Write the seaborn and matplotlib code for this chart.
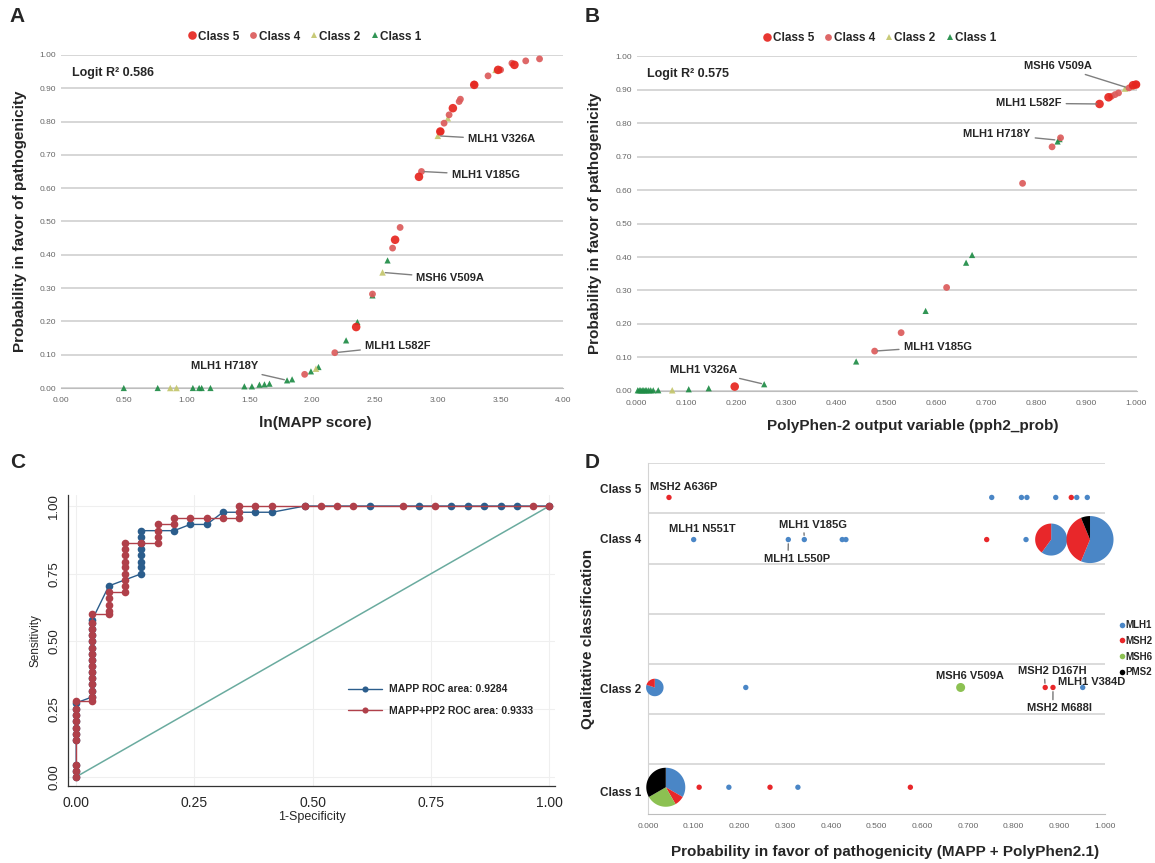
import numpy as np
import matplotlib
matplotlib.use("Agg")
import matplotlib.pyplot as plt
import pandas as pd
import seaborn as sns

# ---------------- panel A: ln(MAPP score) ----------------
a_c5_x = [2.35, 2.66, 2.85, 3.02, 3.12, 3.29, 3.48, 3.61]
a_c5_y = [0.183, 0.445, 0.634, 0.770, 0.840, 0.910, 0.955, 0.970]
a_c4_x = [1.94, 2.18, 2.48, 2.64, 2.70, 2.87, 3.02, 3.05, 3.09, 3.17, 3.18, 3.29, 3.40, 3.50, 3.59, 3.70, 3.81]
a_c4_y = [0.041, 0.106, 0.282, 0.420, 0.482, 0.650, 0.770, 0.795, 0.820, 0.860, 0.867, 0.912, 0.937, 0.955, 0.975, 0.982, 0.988]
a_c2_x = [0.87, 0.92, 2.03, 2.56, 3.00, 3.08, 3.46]
a_c2_y = [0.0, 0.0, 0.058, 0.347, 0.757, 0.810, 0.955]
a_c1_x = [0.50, 0.77, 1.05, 1.10, 1.12, 1.19, 1.46, 1.52, 1.58, 1.62, 1.66, 1.80, 1.84, 1.99, 2.05, 2.27, 2.36, 2.48, 2.60]
a_c1_y = [0.0, 0.0, 0.0, 0.0, 0.0, 0.0, 0.005, 0.005, 0.010, 0.011, 0.013, 0.023, 0.026, 0.050, 0.063, 0.143, 0.198, 0.278, 0.383]
a_labels = ["MLH1 V326A", "MLH1 V185G", "MSH6 V509A", "MLH1 L582F", "MLH1 H718Y"]
a_label_pts = [(3.00, 0.757), (2.87, 0.650), (2.56, 0.347), (2.18, 0.106), (1.80, 0.023)]
a_label_txt = [(3.24, 0.746), (3.11, 0.640), (2.83, 0.330), (2.42, 0.126), (1.57, 0.066)]

# ---------------- panel B: PolyPhen-2 ----------------
b_c5_x = [0.196, 0.926, 0.944, 0.993, 0.999]
b_c5_y = [0.013, 0.857, 0.877, 0.913, 0.915]
b_c4_x = [0.476, 0.529, 0.620, 0.772, 0.831, 0.848, 0.950, 0.957, 0.964, 0.985, 1.000]
b_c4_y = [0.119, 0.174, 0.309, 0.620, 0.729, 0.756, 0.880, 0.885, 0.890, 0.905, 0.915]
b_c2_x = [0.071, 0.977, 0.990]
b_c2_y = [0.002, 0.903, 0.910]
b_c1_x = [0.002, 0.005, 0.008, 0.011, 0.014, 0.017, 0.020, 0.024, 0.028, 0.033, 0.043,
          0.104, 0.144, 0.255, 0.439, 0.578, 0.659, 0.671, 0.842, 0.846]
b_c1_y = [0.002, 0.002, 0.002, 0.002, 0.002, 0.002, 0.002, 0.002, 0.002, 0.002, 0.002,
          0.005, 0.008, 0.020, 0.088, 0.239, 0.383, 0.406, 0.745, 0.752]
b_labels = ["MSH6 V509A", "MLH1 L582F", "MLH1 H718Y", "MLH1 V185G", "MLH1 V326A"]
b_label_pts = [(0.983, 0.905), (0.926, 0.857), (0.842, 0.749), (0.476, 0.119), (0.255, 0.020)]
b_label_txt = [(0.910, 0.971), (0.850, 0.859), (0.788, 0.767), (0.534, 0.132), (0.200, 0.063)]
b_label_ha = ["right", "right", "right", "left", "right"]

# ---------------- panel C: ROC curves ----------------
roc_mapp_x = [0, 0, 0, 0, 0, 0, 0, 0, 0, 0,
              0.034, 0.034, 0.034, 0.034, 0.034, 0.034, 0.034, 0.034, 0.034, 0.034, 0.034, 0.034, 0.034, 0.034,
              0.069, 0.138, 0.138, 0.138, 0.138, 0.138, 0.138, 0.138, 0.138,
              0.207, 0.241, 0.276, 0.310, 0.379, 0.414,
              0.483, 0.621, 0.724, 0.793, 0.828, 0.862, 0.897, 0.931, 1.0]
roc_mapp_y = [0, 0.023, 0.045, 0.136, 0.159, 0.182, 0.205, 0.227, 0.250, 0.273,
              0.295, 0.318, 0.341, 0.364, 0.386, 0.409, 0.432, 0.455, 0.477, 0.500, 0.523, 0.545, 0.568, 0.580,
              0.705, 0.750, 0.773, 0.795, 0.818, 0.841, 0.864, 0.886, 0.909,
              0.909, 0.932, 0.932, 0.977, 0.977, 0.977,
              1.0, 1.0, 1.0, 1.0, 1.0, 1.0, 1.0, 1.0, 1.0]
roc_comb_x = [0, 0, 0, 0, 0, 0, 0, 0, 0, 0,
              0.034, 0.034, 0.034, 0.034, 0.034, 0.034, 0.034, 0.034, 0.034, 0.034, 0.034, 0.034, 0.034, 0.034, 0.034,
              0.069, 0.069, 0.069, 0.069, 0.069,
              0.103, 0.103, 0.103, 0.103, 0.103, 0.103, 0.103, 0.103, 0.103,
              0.138, 0.172, 0.172, 0.172, 0.172, 0.207, 0.207, 0.241, 0.276, 0.310,
              0.345, 0.345, 0.345, 0.379, 0.414, 0.483, 0.517, 0.552, 0.586, 0.690, 0.759, 0.966, 1.0]
roc_comb_y = [0, 0.023, 0.045, 0.136, 0.159, 0.182, 0.205, 0.227, 0.250, 0.280,
              0.280, 0.295, 0.318, 0.341, 0.364, 0.386, 0.409, 0.432, 0.455, 0.477, 0.500, 0.523, 0.545, 0.568, 0.600,
              0.600, 0.614, 0.636, 0.659, 0.682,
              0.682, 0.705, 0.727, 0.750, 0.773, 0.795, 0.818, 0.841, 0.864,
              0.864, 0.864, 0.886, 0.909, 0.932, 0.932, 0.955, 0.955, 0.955, 0.955,
              0.955, 0.977, 1.0, 1.0, 1.0, 1.0, 1.0, 1.0, 1.0, 1.0, 1.0, 1.0, 1.0]
roc_ref = [0, 1]

# ---------------- panel D: classification vs probability ----------------
genes = ["MLH1", "MSH2", "MSH6", "PMS2"]
d_class_names = ["Class 5", "Class 4", "Class 2", "Class 1"]
d_class_y = [6.32, 5.48, 2.53, 0.54]
d_label_y = [6.5, 5.5, 2.5, 0.45]
d_pt_x = [0.046, 0.752, 0.817, 0.829, 0.892, 0.926, 0.938, 0.961,
          0.100, 0.307, 0.342, 0.425, 0.433, 0.741, 0.827,
          0.214, 0.684, 0.869, 0.886, 0.951,
          0.112, 0.177, 0.267, 0.328, 0.574]
d_pt_cls = ["Class 5"] * 8 + ["Class 4"] * 7 + ["Class 2"] * 5 + ["Class 1"] * 5
d_pt_gene = ["MSH2", "MLH1", "MLH1", "MLH1", "MLH1", "MSH2", "MLH1", "MLH1",
             "MLH1", "MLH1", "MLH1", "MLH1", "MLH1", "MSH2", "MLH1",
             "MLH1", "MSH6", "MSH2", "MSH2", "MLH1",
             "MSH2", "MLH1", "MSH2", "MLH1", "MSH2"]
# grouped variants drawn as pies (counts per gene: MLH1, MSH2, MSH6, PMS2)
pie_x = [0.882, 0.967, 0.015, 0.039]
pie_cls = ["Class 4", "Class 4", "Class 2", "Class 1"]
pie_counts = [[3, 2, 0, 0], [9, 6, 0, 1], [4, 1, 0, 0], [8, 2, 6, 8]]
pie_diam_px = [32, 47, 17.5, 39]
d_labels = ["MSH2 A636P", "MLH1 N551T", "MLH1 V185G", "MLH1 L550P", "MSH6 V509A",
            "MSH2 D167H", "MLH1 V384D", "MSH2 M688I"]
d_label_txt = [(0.005, 6.52), (0.045, 5.70), (0.286, 5.78), (0.253, 5.10), (0.630, 2.75),
               (0.809, 2.86), (0.896, 2.63), (0.829, 2.12)]
d_label_pt = [None, None, (0.342, 5.48), (0.307, 5.48), None, (0.869, 2.53), None, (0.886, 2.53)]
d_label_rel = [None, None, (0.37, 0.0), (0.37, 1.0), None, (0.39, 0.0), None, (0.40, 1.0)]

class_order = ["Class 5", "Class 4", "Class 2", "Class 1"]
class_colors = {"Class 5": "#e6261f", "Class 4": "#dc5b5b", "Class 2": "#c4c66c", "Class 1": "#1f8c46"}
class_markers = {"Class 5": "o", "Class 4": "o", "Class 2": "^", "Class 1": "^"}
class_sizes = {"Class 5": 38, "Class 4": 24, "Class 2": 22, "Class 1": 20}
gene_colors = {"MLH1": "#4a86c6", "MSH2": "#e8272a", "MSH6": "#8cc152", "PMS2": "#000000"}

sns.set_style("white")
plt.rcParams["font.family"] = ["Liberation Sans", "DejaVu Sans"]

fig = plt.figure(figsize=(11.55, 8.63), dpi=100)


def class_frame(parts):
    rows = []
    for cls, xs, ys in parts:
        for x, y in zip(xs, ys):
            rows.append({"x": x, "y": y, "cls": cls})
    return pd.DataFrame(rows)


def scatter_panel(ax, df, xmax, xstep, fmt, labels, pts, txts, has, r2, xlabel, lab_x, lab_xx, leg_x):
    sns.scatterplot(data=df, x="x", y="y", hue="cls", style="cls", size="cls",
                    hue_order=class_order[::-1], style_order=class_order, size_order=class_order,
                    palette=class_colors, markers=class_markers, sizes=class_sizes,
                    edgecolor="none", alpha=0.92, ax=ax, zorder=3, clip_on=False)
    ax.set_xlim(0, xmax)
    ax.set_ylim(0, 1.0)
    ax.set_xticks(np.arange(0, xmax + 1e-9, xstep))
    ax.set_xticklabels([fmt.format(v) for v in np.arange(0, xmax + 1e-9, xstep)])
    ax.set_yticks(np.arange(0, 1.001, 0.1))
    ax.set_yticklabels(["{:.2f}".format(v) for v in np.arange(0, 1.001, 0.1)])
    ax.tick_params(labelsize=6, colors="#666666", length=3, width=0.8)
    ax.tick_params(axis="y", length=0)
    ax.grid(axis="y", color="#cfcfcf", lw=1.2)
    ax.set_axisbelow(True)
    for s in ["top", "right", "left"]:
        ax.spines[s].set_visible(False)
    ax.spines["bottom"].set_color("#bdbdbd")
    ax.set_xlabel(xlabel, fontsize=11, fontweight="bold")
    ax.set_ylabel("Probability in favor of pathogenicity", fontsize=11, fontweight="bold")
    ax.xaxis.set_label_coords(lab_xx, -0.085)
    ax.yaxis.set_label_coords(lab_x, 0.5)
    ax.text(0.021, 0.946, r2, transform=ax.transAxes, fontsize=9, fontweight="bold", va="center")
    for lab, p, t, ha in zip(labels, pts, txts, has):
        ax.annotate(lab, xy=p, xytext=t, ha=ha, va="center", fontsize=8, fontweight="bold",
                    arrowprops=dict(arrowstyle="-", color="#7f7f7f", lw=1, shrinkA=1, shrinkB=2))
    handles, texts = ax.get_legend_handles_labels()
    order = [texts.index(c) for c in class_order]
    ax.legend([handles[i] for i in order], class_order, loc="center", bbox_to_anchor=(leg_x, 1.055),
              ncol=4, frameon=False, handlelength=0.6, handletextpad=0.15, columnspacing=0.9,
              prop={"weight": "bold", "size": 8.5})


# ---- A ----
axA = fig.add_axes([0.0528, 0.5504, 0.435, 0.386])
dfA = class_frame([("Class 1", a_c1_x, a_c1_y), ("Class 2", a_c2_x, a_c2_y),
                   ("Class 4", a_c4_x, a_c4_y), ("Class 5", a_c5_x, a_c5_y)])
scatter_panel(axA, dfA, 4.0, 0.5, "{:.2f}", a_labels, a_label_pts, a_label_txt,
              ["left", "left", "left", "left", "right"], "Logit R\u00b2 0.586", "ln(MAPP score)",
              -0.067, 0.506, 0.486)

# ---- B ----
axB = fig.add_axes([0.5513, 0.547, 0.4327, 0.388])
dfB = class_frame([("Class 1", b_c1_x, b_c1_y), ("Class 2", b_c2_x, b_c2_y),
                   ("Class 4", b_c4_x, b_c4_y), ("Class 5", b_c5_x, b_c5_y)])
scatter_panel(axB, dfB, 1.0, 0.1, "{:.3f}", b_labels, b_label_pts, b_label_txt, b_label_ha,
              "Logit R\u00b2 0.575", "PolyPhen-2 output variable (pph2_prob)", -0.069, 0.553, 0.487)

# ---- C ----
axC = fig.add_axes([0.0592, 0.0892, 0.4213, 0.337])
sns.lineplot(x=roc_ref, y=roc_ref, color="#6aab9f", lw=1.1, ax=axC)
sns.lineplot(x=roc_mapp_x, y=roc_mapp_y, sort=False, estimator=None, color="#2b5d8c", lw=1,
             marker="o", markersize=5.5, markeredgewidth=0, label="MAPP ROC area: 0.9284", ax=axC)
sns.lineplot(x=roc_comb_x, y=roc_comb_y, sort=False, estimator=None, color="#b0404a", lw=1,
             marker="o", markersize=5.5, markeredgewidth=0, label="MAPP+PP2 ROC area: 0.9333", ax=axC)
axC.set_xlim(-0.0165, 1.012)
axC.set_ylim(-0.034, 1.04)
ticks = [0, 0.25, 0.5, 0.75, 1.0]
axC.set_xticks(ticks)
axC.set_xticklabels(["{:.2f}".format(t) for t in ticks], fontsize=10)
axC.set_yticks(ticks)
axC.set_yticklabels(["{:.2f}".format(t) for t in ticks], fontsize=9.5, rotation=90, va="center")
axC.tick_params(length=4, width=0.8, color="#333333", direction="out")
axC.tick_params(axis="y", pad=2)
axC.grid(color="#efefef", lw=0.8)
for s in ["top", "right"]:
    axC.spines[s].set_visible(False)
for s in ["left", "bottom"]:
    axC.spines[s].set_color("#333333")
    axC.spines[s].set_linewidth(0.9)
axC.set_xlabel("1-Specificity", fontsize=9)
axC.set_ylabel("Sensitivity", fontsize=8.5)
axC.xaxis.set_label_coords(0.5, -0.086)
axC.yaxis.set_label_coords(-0.055, 0.5)
axC.legend(loc="center left", bbox_to_anchor=(0.555, 0.295), frameon=False,
           prop={"weight": "bold", "size": 7.5}, markerscale=0.8,
           handlelength=3.3, handletextpad=0.7, labelspacing=1.1)

# ---- D ----
axD = fig.add_axes([0.561, 0.0564, 0.3958, 0.4067])
cls_y = dict(zip(d_class_names, d_class_y))
dfD = pd.DataFrame({"x": d_pt_x, "y": [cls_y[c] for c in d_pt_cls], "gene": d_pt_gene})
dfD["big"] = dfD["gene"].map(lambda g: "big" if g == "MSH6" else "small")
sns.scatterplot(data=dfD, x="x", y="y", hue="gene", hue_order=genes, palette=gene_colors,
                size="big", sizes={"big": 42, "small": 15}, size_order=["big", "small"],
                edgecolor="none", ax=axD, zorder=4)


def pie_marker(ax, x, y, counts, diam_px):
    total = float(sum(counts))
    start = np.pi / 2
    s_base = (diam_px * 72.0 / fig.dpi) ** 2
    for n, g in zip(counts, genes):
        if n == 0:
            continue
        end = start - 2 * np.pi * n / total
        t = np.linspace(start, end, 80)
        verts = np.vstack([[0, 0], np.column_stack([np.cos(t), np.sin(t)]), [0, 0]])
        m = np.max(np.abs(verts))
        ax.scatter([x], [y], marker=verts, s=s_base * m ** 2, color=gene_colors[g],
                   edgecolor="none", zorder=5, clip_on=False)
        start = end


for px, pc, cnt, dm in zip(pie_x, pie_cls, pie_counts, pie_diam_px):
    pie_marker(axD, px, cls_y[pc], cnt, dm)

for lab, t, p, rel in zip(d_labels, d_label_txt, d_label_pt, d_label_rel):
    if p is None:
        axD.text(t[0], t[1], lab, ha="left", va="center", fontsize=8, fontweight="bold", zorder=6)
    else:
        axD.annotate(lab, xy=p, xytext=t, ha="left", va="center", fontsize=8, fontweight="bold",
                     arrowprops=dict(arrowstyle="-", color="#555555", lw=0.8, relpos=rel,
                                     shrinkA=0, shrinkB=3), zorder=6)

axD.set_xlim(0, 1.0)
axD.set_ylim(0, 7)
xt = np.arange(0, 1.001, 0.1)
axD.set_xticks(xt)
axD.set_xticklabels(["{:.3f}".format(v) for v in xt])
axD.tick_params(axis="x", labelsize=6, colors="#666666", length=3, width=0.8)
axD.set_yticks(d_label_y)
axD.set_yticklabels(d_class_names, fontsize=8.5, fontweight="bold")
axD.tick_params(axis="y", length=0, pad=5)
axD.set_yticks(range(1, 8), minor=True)
axD.tick_params(axis="y", which="minor", length=0)
axD.grid(axis="y", which="minor", color="#d4d4d4", lw=1.2)
axD.grid(axis="y", which="major", visible=False)
axD.set_axisbelow(True)
for s in ["top", "right"]:
    axD.spines[s].set_visible(False)
axD.spines["left"].set_color("#d4d4d4")
axD.spines["bottom"].set_color("#bdbdbd")
axD.set_xlabel("Probability in favor of pathogenicity (MAPP + PolyPhen2.1)", fontsize=11, fontweight="bold")
axD.set_ylabel("Qualitative classification", fontsize=11, fontweight="bold")
axD.xaxis.set_label_coords(0.519, -0.087)
axD.yaxis.set_label_coords(-0.116, 0.5)
handles, texts = axD.get_legend_handles_labels()
gh = [handles[texts.index(g)] for g in genes]
for h in gh:
    h.set_markersize(4)
axD.legend(gh, genes, loc="center left", bbox_to_anchor=(1.024, 0.472), frameon=False,
           handlelength=0.5, handletextpad=0.1, labelspacing=0.6, borderaxespad=0,
           prop={"weight": "bold", "size": 7})

# panel letters
for letter, (px, py) in zip("ABCD", [(17, 17), (592, 17), (18, 462), (592, 462)]):
    fig.text(px / 1155, 1 - py / 863, letter, fontsize=15, fontweight="bold", ha="center", va="center")

fig.savefig("out.png", dpi=100)
